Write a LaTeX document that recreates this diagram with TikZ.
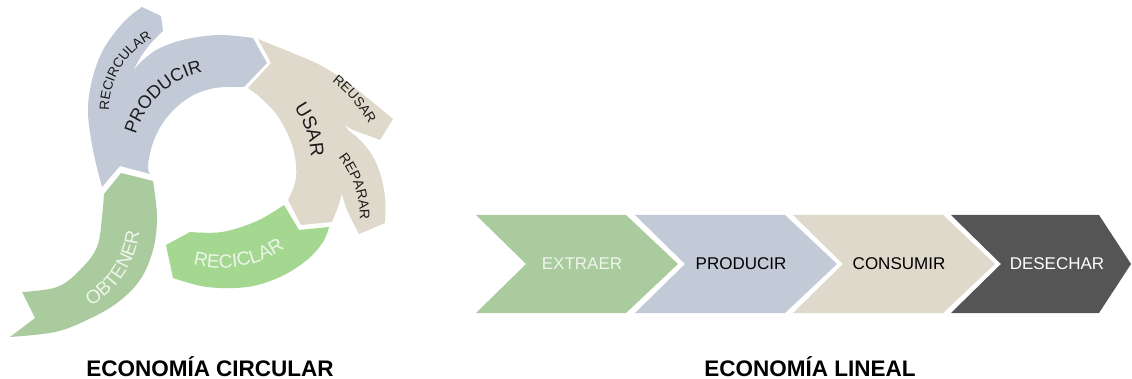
\documentclass[tikz,border=0pt]{standalone}
\usepackage{fontspec}
\setmainfont{Liberation Sans}
\usetikzlibrary{decorations.text}
\definecolor{bluegrey}{HTML}{C1CAD6}
\definecolor{tanc}{HTML}{DFD9CC}
\definecolor{greenA}{HTML}{A9CB9D}
\definecolor{greenB}{HTML}{A4D78F}
\definecolor{darkgrey}{HTML}{555555}
\definecolor{lighttext}{HTML}{EEF5EB}
\definecolor{inktext}{HTML}{1A1A1A}
\tikzset{
  smoothedge/.style={smooth,tension=0.6},
  chevlabel/.style={inner sep=0pt,font=\fontsize{17}{20}\selectfont},
  titlelabel/.style={inner sep=0pt,anchor=base,font=\fontsize{22.5}{27}\selectfont\bfseries,text=black},
  arclabel/.style={decorate,decoration={text along path,text align=center,text={#1}}}
}
\begin{document}
\begin{tikzpicture}[x=1pt,y=-1pt]
\useasboundingbox (0,0) rectangle (1132,379);
\fill[white] (0,0) rectangle (1132,379);
\begin{scope}
\clip (0,0) rectangle (1132,379);
% ---------- circular economy ----------
% PRODUCIR + RECIRCULAR (blue)
\fill[bluegrey] (102,187) -- plot[smoothedge] coordinates {(102,187) (93,150) (88,112) (92,80) (102,52) (116,31) (130,16) (142,7)}
  -- (161,16) -- (163,31)
  -- plot[smoothedge] coordinates {(163,31) (152,42) (142,55) (133,71)}
  -- plot[smoothedge] coordinates {(133,71) (143,60) (160,48) (187,39) (220,35) (253,38)}
  -- (267,63) -- (244,87)
  -- plot[smoothedge] coordinates {(244,87) (215,88) (190,97) (168,116) (154,140) (148,165) (150,174)}
  -- (120,166) -- cycle;
% USAR + REUSAR + REPARAR (tan)
\fill[tanc] (258,39) -- plot[smoothedge] coordinates {(258,39) (290,52) (320,65) (347,82) (370,100) (393,119)}
  -- (380,140)
  -- plot[smoothedge] coordinates {(380,140) (367,135) (353,130) (345,125)} -- (335,108) -- (348,130)
  -- plot[smoothedge] coordinates {(348,130) (360,140) (372,155) (380,173) (385,197) (385,223)}
  -- (359,234)
  -- plot[smoothedge] coordinates {(359,234) (347,210) (342,194)}
  -- (337,210) -- (332,222) -- (301,225) -- (288,200)
  -- plot[smoothedge] coordinates {(288,200) (296,178) (293,148) (279,118) (262,99) (248,88)}
  -- (271,63) -- cycle;
% OBTENER (green)
\fill[greenA] (104,194) -- (121,173) -- (153,181)
  -- plot[smoothedge] coordinates {(153,181) (157,217) (153,250) (140,280) (117,303) (87,320) (55,332) (10,337)}
  -- (35,318) -- (22,292)
  -- plot[smoothedge] coordinates {(22,292) (57,287) (80,270) (97,247) (102,217) (104,194)} -- cycle;
% RECICLAR (bright green)
\fill[greenB] (284,205) -- (299,230) -- (329,227)
  -- plot[smoothedge] coordinates {(329,227) (323,242) (307,260) (280,277) (247,287) (207,287) (173,278)}
  -- (166,245) -- (190,232)
  -- plot[smoothedge] coordinates {(190,232) (222,232) (257,221) (284,205)} -- cycle;
% curved labels
\path[arclabel={|\fontsize{18}{18}\selectfont\color{inktext}|PRODUCIR}] plot[domain=185:269,samples=60] ({222+90*cos(\x)},{160+90*sin(\x)});
\path[arclabel={|\fontsize{13.5}{13.5}\selectfont\color{inktext}|RECIRCULAR}] plot[domain=168:254,samples=60] ({190+81*cos(\x)},{110+81*sin(\x)});
\path[arclabel={|\fontsize{19}{19}\selectfont\color{inktext}|USAR}] plot[domain=300:382,samples=60] ({222+89*cos(\x)},{160+89*sin(\x)});
\path[arclabel={|\fontsize{13.5}{13.5}\selectfont\color{inktext}|REUSAR}] plot[domain=290:348,samples=60] ({250+136*cos(\x)},{190+136*sin(\x)});
\path[arclabel={|\fontsize{14}{14}\selectfont\color{inktext}|REPARAR}] plot[domain=300:382,samples=60] ({261+99*cos(\x)},{219+99*sin(\x)});
\path[arclabel={|\fontsize{19}{19}\selectfont\color{lighttext}|OBTENER}] plot[domain=88:-22,samples=60] ({40+100*cos(\x)},{220+100*sin(\x)});
\path[arclabel={|\fontsize{19}{19}\selectfont\color{lighttext}|RECICLAR}] plot[domain=132:28,samples=60] ({222+108*cos(\x)},{160+108*sin(\x)});
% ---------- linear economy ----------
\foreach \L/\col in {476/greenA,635/bluegrey,793/tanc}{
  \fill[\col] (\L,215) -- (\L+150,215) -- (\L+202,264) -- (\L+150,313) -- (\L,313) -- (\L+50,264) -- cycle;
}
\fill[darkgrey] (951,215) -- (1099,215) -- (1131,264) -- (1099,313) -- (951,313) -- (1001,264) -- cycle;
\end{scope}
\node[chevlabel,text=lighttext] (ext) at (582,264) {EXTRAER};
\node[chevlabel,text=black] (pro) at (741,264) {PRODUCIR};
\node[chevlabel,text=black] (con) at (899,264) {CONSUMIR};
\node[chevlabel,text=white] (des) at (1057,264) {DESECHAR};
% titles
\node[titlelabel] (tcirc) at (210,376) {ECONOMÍA CIRCULAR};
\node[titlelabel] (tlin) at (810,376) {ECONOMÍA LINEAL};
\end{tikzpicture}
\end{document}
